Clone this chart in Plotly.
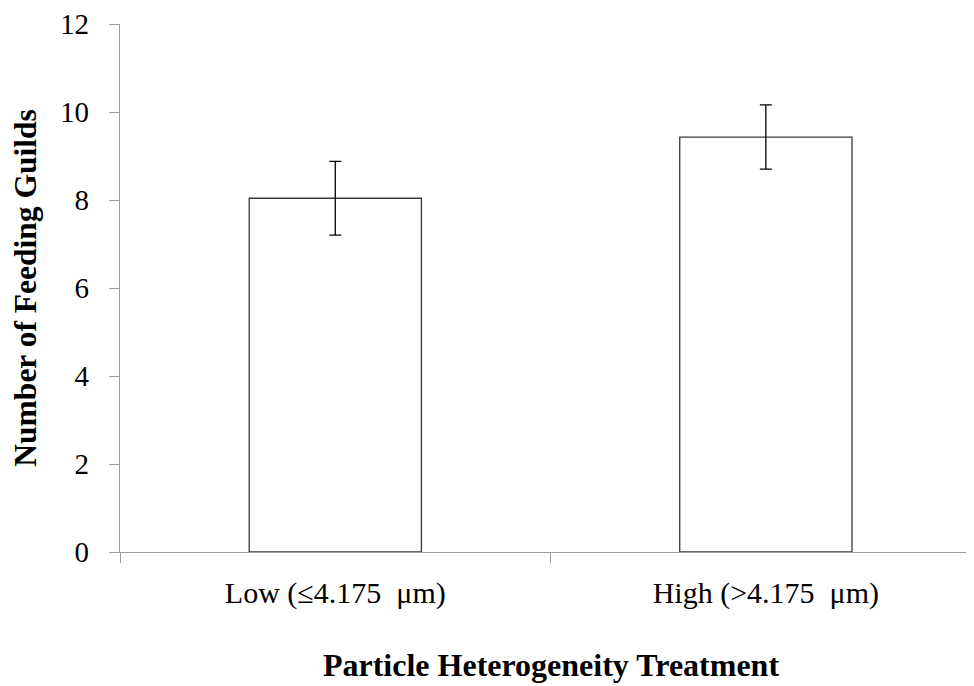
import plotly.graph_objects as go

categories = ["Low (≤4.175  μm)", "High (>4.175  μm)"]
means = [8.04, 9.43]
errors = [0.84, 0.73]
y_ticks = [0, 2, 4, 6, 8, 10, 12]

FONT = "Liberation Serif, Times New Roman, serif"
AXIS_COL = "#9a9a9a"

fig = go.Figure()
fig.add_trace(go.Bar(
    x=categories, y=means, width=0.4,
    marker=dict(color="white", line=dict(color="#3a3a3a", width=1.3)),
    error_y=dict(type="data", array=errors, visible=True, color="black",
                 thickness=1.3, width=6),
))

fig.update_layout(
    width=974, height=686,
    margin=dict(l=112, r=0, t=14, b=142),
    paper_bgcolor="white", plot_bgcolor="white",
    showlegend=False,
    font=dict(family=FONT, color="black", size=29),
    xaxis=dict(
        type="category", range=[-0.5, 1.502],
        showline=True, linecolor=AXIS_COL, linewidth=1.3,
        ticks="outside", tickson="boundaries", ticklen=10, tickcolor=AXIS_COL, tickwidth=1.3,
        showgrid=False, zeroline=False, ticklabelstandoff=14,
        tickfont=dict(family=FONT, size=30, color="black"),
        title=dict(text="<b>Particle Heterogeneity Treatment</b>",
                   font=dict(family=FONT, size=32, color="black"), standoff=44),
    ),
    yaxis=dict(
        range=[0, 12], tickvals=y_ticks,
        showline=True, linecolor=AXIS_COL, linewidth=1.3,
        ticks="outside", ticklen=10, tickcolor=AXIS_COL, tickwidth=1.3,
        showgrid=False, zeroline=False, ticklabelstandoff=14,
        ticklabeloverflow="allow",
        tickfont=dict(family=FONT, size=29, color="black"),
        title=dict(text="<b>Number of Feeding Guilds</b>",
                   font=dict(family=FONT, size=31.5, color="black"), standoff=15),
    ),
)

fig.write_html("out.html")
